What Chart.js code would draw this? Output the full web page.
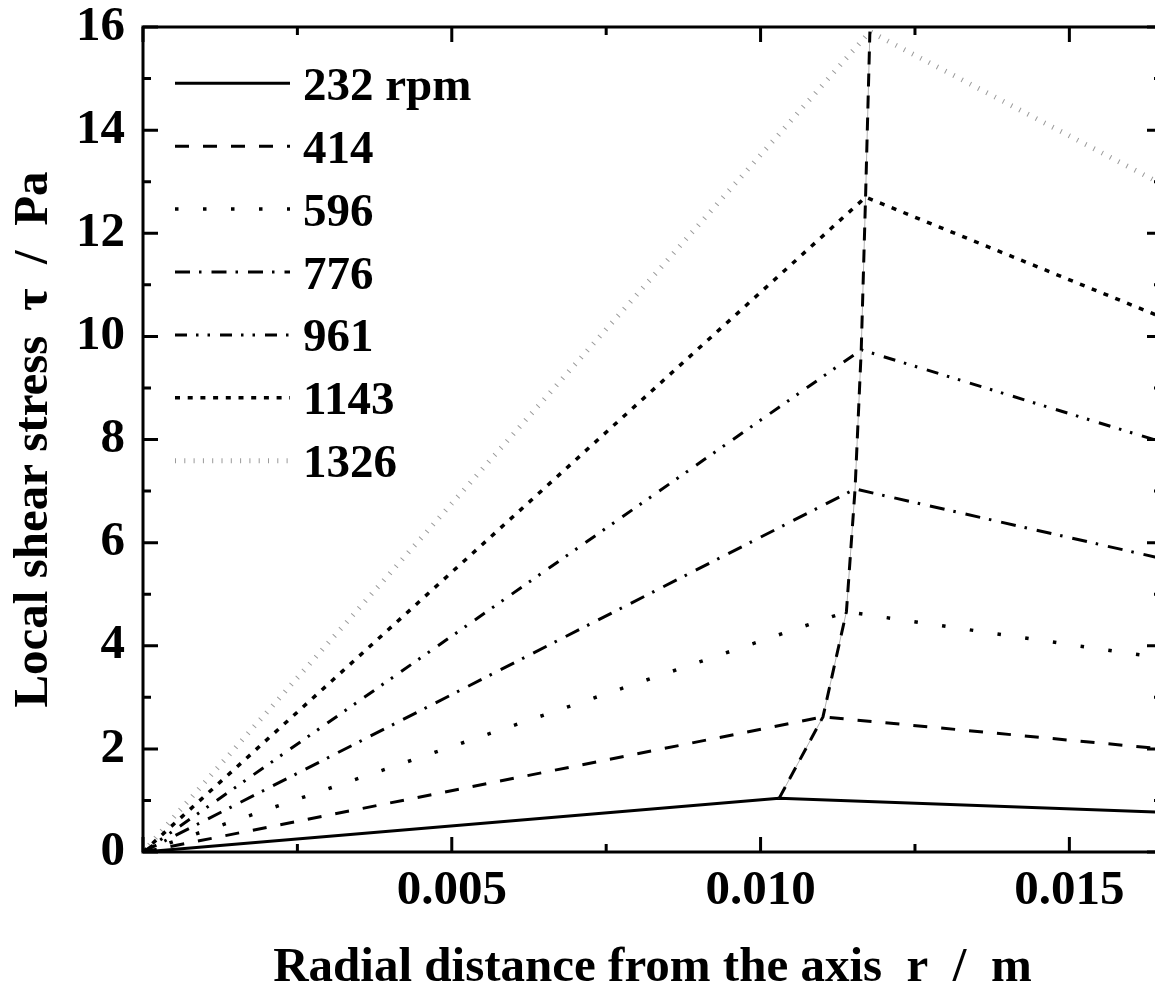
<!DOCTYPE html>
<html><head><meta charset="utf-8">
<script src="https://cdn.jsdelivr.net/npm/chart.js@4.4.1/dist/chart.umd.min.js"></script>
<style>
html,body{margin:0;padding:0;overflow:hidden;background:#fff;width:1155px;height:993px}
#wrap{width:1166px;height:993px}
</style>
</head><body><div id="wrap"><canvas id="c" width="1166" height="993"></canvas></div>
<script>
// ---- data ----
const speedLabels = ['232 rpm', '414', '596', '776', '961', '1143', '1326'];
const peakR   = [0.01030, 0.01101, 0.01139, 0.01153, 0.01163, 0.01170, 0.01177];
const peakTau = [1.04, 2.62, 4.66, 7.04, 9.74, 12.70, 15.91];
const wallR   = 0.0165;
const wallTau = [0.77, 2.00, 3.76, 5.69, 7.95, 10.37, 12.95];
const xTickLabels = [0.005, 0.010, 0.015];
const yTickLabels = [0, 2, 4, 6, 8, 10, 12, 14, 16];

// ---- styles ----
const lineStyles = [
  {c:'#000', w:3,   d:[]},
  {c:'#000', w:3,   d:[14,14]},
  {c:'#000', w:3.5, d:[3.5,24.5]},
  {c:'#000', w:3,   d:[15,9,2.5,10]},
  {c:'#000', w:3,   d:[12,9,2.5,9,2.5,10]},
  {c:'#000', w:3.5, d:[5,7.7]},
  {c:'#9a9a9a', w:5, d:[1,8.3]}
];
const FONT = '"Liberation Serif", "Times New Roman", serif';

const seriesSets = speedLabels.map((lab, i) => ({
  label: lab,
  data: [{x:0, y:0}, {x:peakR[i], y:peakTau[i]}, {x:wallR, y:wallTau[i]}],
  borderColor: lineStyles[i].c,
  borderWidth: lineStyles[i].w,
  borderDash: lineStyles[i].d,
  borderCapStyle: 'butt',
  showLine: true, pointRadius: 0, tension: 0, fill: false,
  isSeries: true
}));
const locus = peakR.map((r, i) => ({x:r, y:peakTau[i]}));
const datasets = [
  {label:'locus', data: locus, borderColor:'#000', borderWidth:3, borderDash:[13,9],
   showLine:true, pointRadius:0, tension:0, fill:false},
  {label:'locus2', data: locus, borderColor:'#b0b0b0', borderWidth:1,
   showLine:true, pointRadius:0, tension:0, fill:false},
  ...seriesSets
];

const isMult = (v, s) => Math.abs(v / s - Math.round(v / s)) < 1e-6;

const decor = {
  id: 'decor',
  afterDraw(chart) {
    const ctx = chart.ctx, a = chart.chartArea;
    const xs = chart.scales.x, ys = chart.scales.y;
    ctx.save();
    ctx.strokeStyle = '#000';
    ctx.lineWidth = 3;
    ctx.setLineDash([]);
    ctx.lineCap = 'butt';
    ctx.strokeRect(a.left, a.top, a.right - a.left, a.bottom - a.top);
    // x ticks (bottom & top, inward)
    xs.ticks.forEach(t => {
      const v = t.value;
      if (!isMult(v, 0.0025)) return;
      const len = isMult(v, 0.005) ? 15 : 8;
      const px = xs.getPixelForValue(v);
      ctx.beginPath();
      ctx.moveTo(px, a.bottom); ctx.lineTo(px, a.bottom - len);
      ctx.moveTo(px, a.top); ctx.lineTo(px, a.top + len);
      ctx.stroke();
    });
    ys.ticks.forEach(t => {
      const v = t.value;
      if (!isMult(v, 1)) return;
      const len = isMult(v, 2) ? 15 : 8;
      const py = ys.getPixelForValue(v);
      ctx.beginPath();
      ctx.moveTo(a.left, py); ctx.lineTo(a.left + len, py);
      ctx.moveTo(a.right, py); ctx.lineTo(a.right - len, py);
      ctx.stroke();
    });
    // legend
    const x0 = 175, x1 = 290, tx = 303, y0 = 83.3, step = 62.9;
    ctx.font = 'bold 47px ' + FONT;
    ctx.textAlign = 'left';
    ctx.textBaseline = 'alphabetic';
    chart.data.datasets.filter(d => d.isSeries).forEach((d, i) => {
      const y = y0 + i * step;
      ctx.strokeStyle = d.borderColor;
      ctx.lineWidth = d.borderWidth;
      ctx.setLineDash(d.borderDash);
      ctx.beginPath(); ctx.moveTo(x0, y); ctx.lineTo(x1, y); ctx.stroke();
      ctx.setLineDash([]);
      ctx.fillStyle = '#000';
      ctx.fillText(d.label, tx, y + 16.5);
    });
    ctx.restore();
  }
};

new Chart(document.getElementById('c'), {
  type: 'scatter',
  data: { datasets },
  options: {
    responsive: false,
    animation: false,
    layout: { padding: { top: 27, right: 4, left: 0, bottom: 0 } },
    plugins: { legend: { display: false }, tooltip: { enabled: false } },
    scales: {
      x: {
        type: 'linear', min: 0, max: wallR,
        grid: { display: false, drawTicks: false },
        border: { display: false },
        ticks: {
          stepSize: 0.0025, autoSkip: false, maxRotation: 0, padding: 10, includeBounds: false,
          color: '#000', font: { family: FONT, size: 49, weight: 'bold' },
          callback: v => xTickLabels.some(t => Math.abs(t - v) < 1e-9) ? v.toFixed(3) : ''
        },
        title: {
          display: true, text: 'Radial distance from the axis  r  /  m', color: '#000',
          font: { family: FONT, size: 49, weight: 'bold', lineHeight: 1 },
          padding: { top: 0, bottom: 0 }
        },
        afterFit: s => { s.height = 141; s.paddingLeft = 0; s.paddingRight = 0; }
      },
      y: {
        type: 'linear', min: 0, max: 16,
        grid: { display: false, drawTicks: false },
        border: { display: false },
        ticks: {
          stepSize: 1, autoSkip: false, padding: 18,
          color: '#000', font: { family: FONT, size: 49, weight: 'bold', lineHeight: 1 },
          callback: v => yTickLabels.includes(v) ? String(v) : ''
        },
        title: {
          display: true, text: 'Local shear stress  \u03c4  /  Pa', color: '#000',
          font: { family: FONT, size: 49, weight: 'bold', lineHeight: 1 },
          padding: { top: 10, bottom: 0 }
        },
        afterFit: s => { s.width = 143; s.paddingTop = 0; s.paddingBottom = 0; }
      }
    }
  },
  plugins: [decor]
});
</script>
</body></html>
